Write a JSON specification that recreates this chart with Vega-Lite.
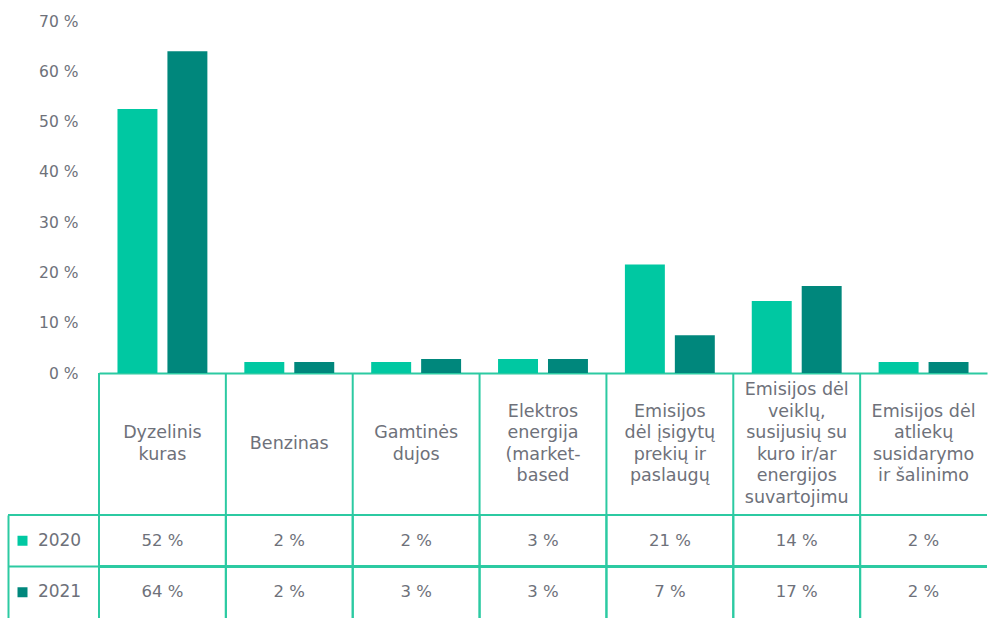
{
  "$schema": "https://vega.github.io/schema/vega-lite/v6.json",
  "padding": {"left": 7, "top": 14, "right": 0, "bottom": 0},
  "bounds": "flush",
  "spacing": 0,
  "columns": 2,
  "resolve": {"scale": {"x": "independent", "y": "independent"}},
  "config": {
    "view": {"stroke": null},
    "font": "DejaVu Sans",
    "text": {"font": "DejaVu Sans", "color": "#6e717a", "fontSize": 17}
  },
  "datasets": {
    "main": [
      {"category": "Dyzelinis\nkuras", "year": "2020", "value": 52.5, "label": "52 %"},
      {"category": "Dyzelinis\nkuras", "year": "2021", "value": 64.0, "label": "64 %"},
      {"category": "Benzinas", "year": "2020", "value": 2.2, "label": "2 %"},
      {"category": "Benzinas", "year": "2021", "value": 2.2, "label": "2 %"},
      {"category": "Gamtinės\ndujos", "year": "2020", "value": 2.2, "label": "2 %"},
      {"category": "Gamtinės\ndujos", "year": "2021", "value": 2.8, "label": "3 %"},
      {"category": "Elektros\nenergija\n(market-\nbased", "year": "2020", "value": 2.8, "label": "3 %"},
      {"category": "Elektros\nenergija\n(market-\nbased", "year": "2021", "value": 2.8, "label": "3 %"},
      {"category": "Emisijos\ndėl įsigytų\nprekių ir\npaslaugų", "year": "2020", "value": 21.6, "label": "21 %"},
      {"category": "Emisijos\ndėl įsigytų\nprekių ir\npaslaugų", "year": "2021", "value": 7.5, "label": "7 %"},
      {"category": "Emisijos dėl\nveiklų,\nsusijusių su\nkuro ir/ar\nenergijos\nsuvartojimu", "year": "2020", "value": 14.3, "label": "14 %"},
      {"category": "Emisijos dėl\nveiklų,\nsusijusių su\nkuro ir/ar\nenergijos\nsuvartojimu", "year": "2021", "value": 17.3, "label": "17 %"},
      {"category": "Emisijos dėl\natliekų\nsusidarymo\nir šalinimo", "year": "2020", "value": 2.2, "label": "2 %"},
      {"category": "Emisijos dėl\natliekų\nsusidarymo\nir šalinimo", "year": "2021", "value": 2.2, "label": "2 %"}
    ],
    "cats": [
      {"category": "Dyzelinis\nkuras"},
      {"category": "Benzinas"},
      {"category": "Gamtinės\ndujos"},
      {"category": "Elektros\nenergija\n(market-\nbased"},
      {"category": "Emisijos\ndėl įsigytų\nprekių ir\npaslaugų"},
      {"category": "Emisijos dėl\nveiklų,\nsusijusių su\nkuro ir/ar\nenergijos\nsuvartojimu"},
      {"category": "Emisijos dėl\natliekų\nsusidarymo\nir šalinimo"}
    ],
    "years": [{"year": "2020"}, {"year": "2021"}]
  },
  "concat": [
    {
      "width": 91, "height": 352,
      "data": {"values": []},
      "mark": "point"
    },
    {
      "width": 888, "height": 352,
      "data": {"name": "main"},
      "mark": {"type": "bar"},
      "encoding": {
        "x": {
          "field": "category", "type": "nominal", "sort": null,
          "scale": {"paddingInner": 0, "paddingOuter": 0},
          "axis": {"labels": false, "ticks": false, "title": null, "domainColor": "#2ccaa2", "domainWidth": 2}
        },
        "xOffset": {"field": "year", "type": "nominal", "scale": {"paddingInner": 0.2, "paddingOuter": 0.37}},
        "y": {
          "field": "value", "type": "quantitative",
          "scale": {"domain": [0, 70]},
          "axis": {
            "values": [0, 10, 20, 30, 40, 50, 60, 70],
            "labelExpr": "datum.value + ' %'",
            "grid": false, "domain": false, "ticks": false, "tickSize": 0,
            "labelPadding": 21, "title": null,
            "labelColor": "#6e717a", "labelFontSize": 15.5, "labelFont": "DejaVu Sans"
          }
        },
        "color": {"field": "year", "type": "nominal", "scale": {"domain": ["2020", "2021"], "range": ["#00c8a2", "#00877c"]}, "legend": null}
      }
    },
    {
      "width": 91, "height": 142,
      "data": {"values": []},
      "mark": "point"
    },
    {
      "width": 888, "height": 142,
      "data": {"name": "cats"},
      "encoding": {
        "x": {"field": "category", "type": "nominal", "sort": null, "scale": {"paddingInner": 0, "paddingOuter": 0}, "axis": null}
      },
      "layer": [
        {
          "mark": {"type": "rule", "color": "#2ccaa2", "strokeWidth": 2},
          "encoding": {"x": {"field": "category", "type": "nominal", "sort": null, "bandPosition": 0, "axis": null}}
        },
        {
          "mark": {
            "type": "text", "lineBreak": "\n", "lineHeight": 21.5, "fontSize": 17.5,
            "dy": {"expr": "-(length(split(datum.category, '\\n')) - 1) * 10.75"}
          },
          "encoding": {"text": {"field": "category"}}
        }
      ]
    },
    {
      "width": 91, "height": 103,
      "data": {"name": "years"},
      "encoding": {
        "y": {
          "field": "year", "type": "nominal",
          "scale": {"paddingInner": 0, "paddingOuter": 0},
          "axis": {"domain": true, "domainColor": "#2ccaa2", "domainWidth": 2, "labels": false, "ticks": false, "title": null, "grid": false}
        }
      },
      "layer": [
        {
          "mark": {"type": "rule", "color": "#2ccaa2", "strokeWidth": 2},
          "encoding": {"y": {"field": "year", "type": "nominal", "bandPosition": 0}}
        },
        {
          "mark": {"type": "point", "shape": "square", "filled": true, "size": 100, "opacity": 1, "xOffset": -31},
          "encoding": {"color": {"field": "year", "type": "nominal", "legend": null}}
        },
        {
          "mark": {"type": "text", "dx": 6, "fontSize": 17},
          "encoding": {"text": {"field": "year"}}
        }
      ]
    },
    {
      "width": 888, "height": 103,
      "data": {"name": "main"},
      "encoding": {
        "x": {"field": "category", "type": "nominal", "sort": null, "scale": {"paddingInner": 0, "paddingOuter": 0}, "axis": null},
        "y": {"field": "year", "type": "nominal", "scale": {"paddingInner": 0, "paddingOuter": 0}, "axis": null}
      },
      "layer": [
        {
          "mark": {"type": "rule", "color": "#2ccaa2", "strokeWidth": 2},
          "encoding": {"x": {"field": "category", "type": "nominal", "sort": null, "bandPosition": 0, "axis": null}, "y": null}
        },
        {
          "mark": {"type": "rule", "color": "#2ccaa2", "strokeWidth": 2},
          "encoding": {"x": null, "y": {"field": "year", "type": "nominal", "bandPosition": 0, "axis": null}}
        },
        {
          "mark": {"type": "text", "fontSize": 16.5},
          "encoding": {"text": {"field": "label"}}
        }
      ]
    }
  ]
}
